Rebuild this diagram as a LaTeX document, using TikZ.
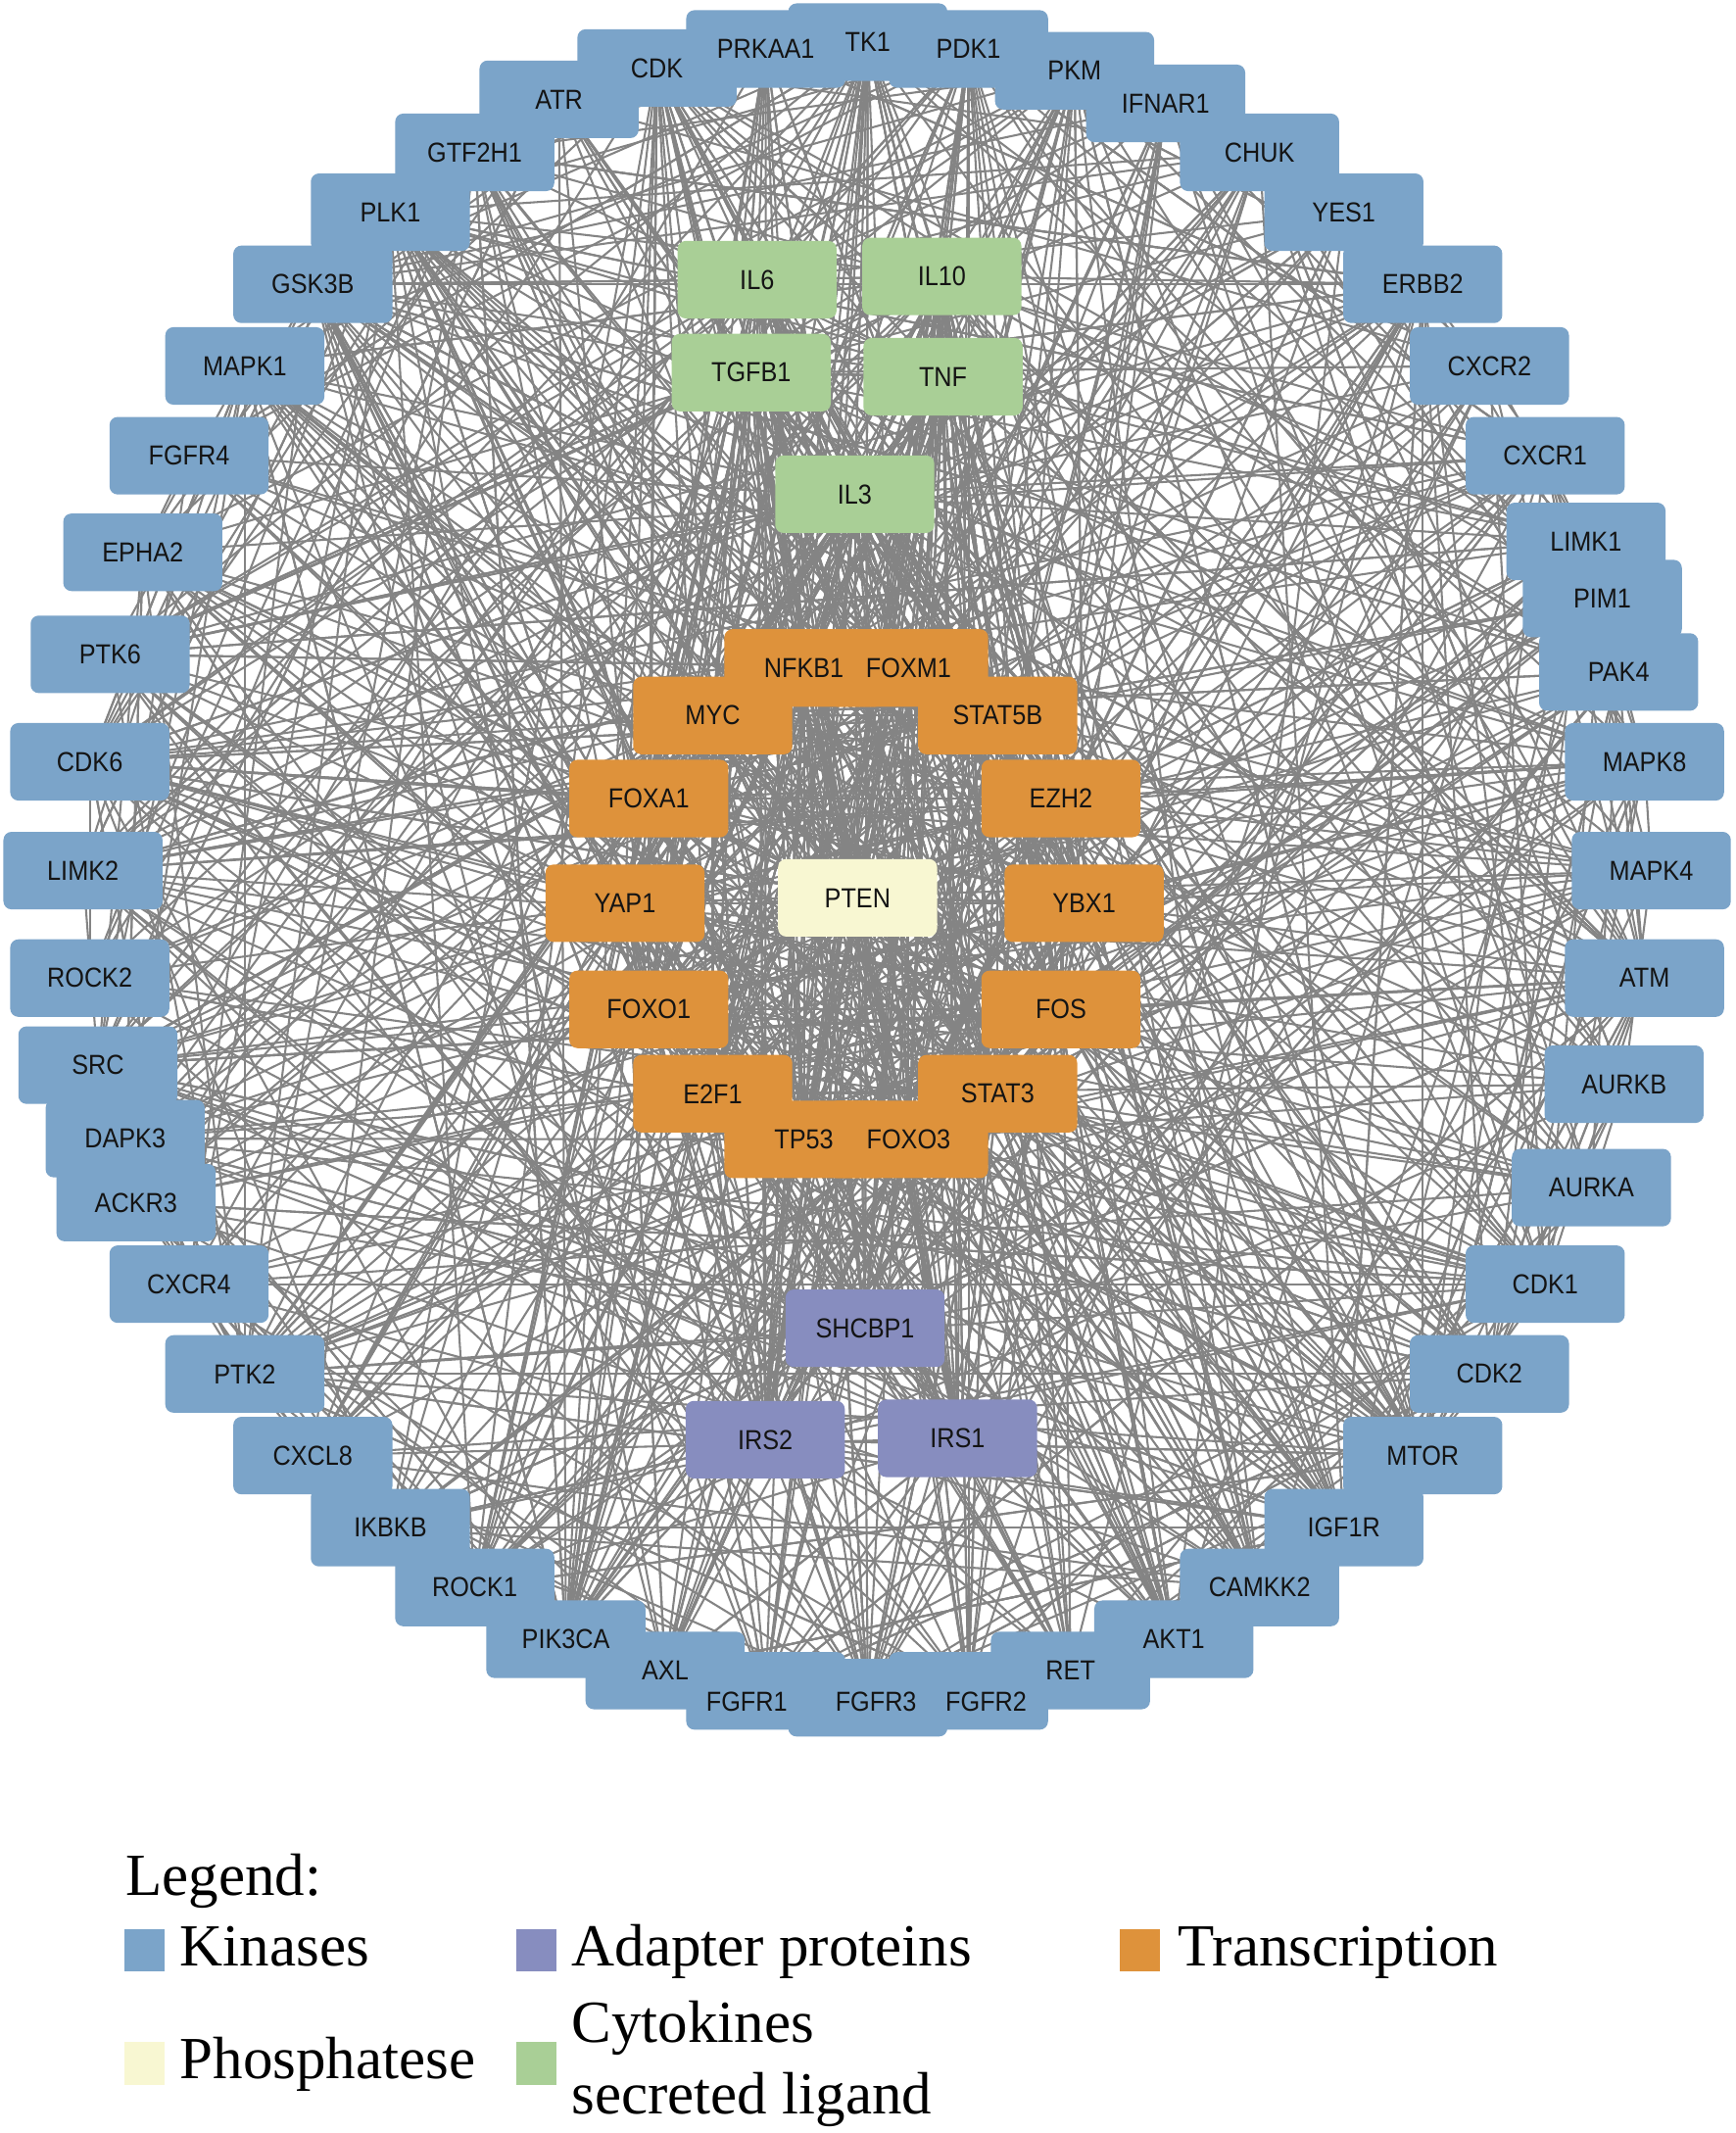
\documentclass[tikz,border=0pt]{standalone}
\usepackage{fontspec}
\setmainfont{Liberation Serif}
\newfontfamily\nodefont[FakeStretch=0.9]{Liberation Sans}
\definecolor{kin}{HTML}{7BA4C9}
\definecolor{tra}{HTML}{DE923B}
\definecolor{cyt}{HTML}{A9CF96}
\definecolor{ada}{HTML}{878DBF}
\definecolor{pho}{HTML}{F8F7D2}
\definecolor{edgec}{HTML}{848484}
\definecolor{txtc}{HTML}{141414}
\pgfdeclarelayer{bg}
\pgfdeclarelayer{boxes}
\pgfsetlayers{bg,boxes,main}
\begin{document}
\begin{tikzpicture}[x=0.02cm,y=-0.02cm,
  box/.style={rectangle,rounded corners=0.12cm,minimum width=2.34cm,minimum height=1.14cm,inner sep=0pt,draw=none},
  lbl/.style={font=\nodefont\fontsize{11.5}{13}\selectfont,text=txtc,inner sep=0pt},
  edge/.style={draw=edgec,line width=0.85pt},
  leg/.style={font=\fontsize{25}{30}\selectfont,text=black,anchor=base west,inner sep=0pt},
  sq/.style={draw=none,inner sep=0pt,minimum width=0.59cm,minimum height=0.62cm,anchor=north west}]
\useasboundingbox (0,0) rectangle (1276,1568);
\begin{pgfonlayer}{bg}
\fill[white] (0,0) rectangle (1276,1568);
\end{pgfonlayer}
% kinases (outer ring)
\foreach \i/\x/\y/\t in {1/638/31/TK1, 2/712/36/PDK1, 3/790/52/PKM, 4/857/76/IFNAR1, 5/926/112/CHUK,
  6/988/156/YES1, 7/1046/209/ERBB2, 8/1095/269/CXCR2, 9/1136/335/CXCR1, 10/1166/398/LIMK1,
  11/1178/440/PIM1, 12/1190/494/PAK4, 13/1209/560/MAPK8, 14/1214/640/MAPK4, 15/1209/719/ATM,
  16/1194/797/AURKB, 17/1170/873/AURKA, 18/1136/944/CDK1, 19/1095/1010/CDK2, 20/1046/1070/MTOR,
  21/988/1123/IGF1R, 22/926/1167/CAMKK2, 23/863/1205/AKT1, 24/787/1228/RET,
  28/489/1228/AXL, 29/416/1205/PIK3CA, 30/349/1167/ROCK1,
  31/287/1123/IKBKB, 32/230/1070/CXCL8, 33/180/1010/PTK2, 34/139/944/CXCR4, 35/100/884/ACKR3,
  36/92/837/DAPK3, 37/72/783/SRC, 38/66/719/ROCK2, 39/61/640/LIMK2, 40/66/560/CDK6,
  41/81/481/PTK6, 42/105/406/EPHA2, 43/139/335/FGFR4, 44/180/269/MAPK1, 45/230/209/GSK3B,
  46/287/156/PLK1, 47/349/112/GTF2H1, 48/411/73/ATR, 49/483/50/CDK, 50/563/36/PRKAA1} {
  \begin{pgfonlayer}{boxes}\node[box,fill=kin] (n\i) at (\x,\y) {};\end{pgfonlayer}
  \node[lbl] at (n\i) {\t};
}
% bottom kinases with off-centre labels
\foreach \i/\x/\y/\lx/\t in {25/712/1243/725/FGFR2, 26/638/1248/644/FGFR3, 27/563/1243/549/FGFR1} {
  \begin{pgfonlayer}{boxes}\node[box,fill=kin] (n\i) at (\x,\y) {};\end{pgfonlayer}
  \node[lbl] at (\lx,1251) {\t};
}
% cytokines
\foreach \i/\x/\y/\t in {51/556.6/205.6/IL6, 52/692.4/203.2/IL10, 53/552.3/273.9/TGFB1, 54/693.3/276.9/TNF, 55/628.4/363.3/IL3} {
  \begin{pgfonlayer}{boxes}\node[box,fill=cyt] (n\i) at (\x,\y) {};\end{pgfonlayer}
  \node[lbl] at (n\i) {\t};
}
% transcription
\foreach \i/\x/\y/\t in {56/591/491/NFKB1, 57/668/491/FOXM1, 58/524/526/MYC, 59/733.5/526/STAT5B,
  60/477/587/FOXA1, 61/780/587/EZH2, 62/459.5/664/YAP1, 63/797/664/YBX1, 64/477/742/FOXO1,
  65/780/742/FOS, 66/524/804/E2F1, 67/733.5/804/STAT3, 68/591/837.6/TP53, 69/668/837.6/FOXO3} {
  \begin{pgfonlayer}{boxes}\node[box,fill=tra] (n\i) at (\x,\y) {};\end{pgfonlayer}
  \node[lbl] at (n\i) {\t};
}
% phosphatase
\begin{pgfonlayer}{boxes}\node[box,fill=pho] (n70) at (630.5,660) {};\end{pgfonlayer}
\node[lbl] at (n70) {PTEN};
% adapters
\foreach \i/\x/\y/\t in {71/636/976.4/SHCBP1, 72/562.6/1058.3/IRS2, 73/704/1057.3/IRS1} {
  \begin{pgfonlayer}{boxes}\node[box,fill=ada] (n\i) at (\x,\y) {};\end{pgfonlayer}
  \node[lbl] at (n\i) {\t};
}
% interactions
\pgfmathsetseed{2024}
\begin{pgfonlayer}{bg}
\foreach \i in {51,...,73} {
  \foreach \k in {1,...,27} {
    \pgfmathrandominteger{\j}{1}{73}
    \draw[edge] (n\i.center) -- (n\j.center);
  }
}
\foreach \i in {51,...,70} {
  \foreach \k in {1,...,16} {
    \pgfmathrandominteger{\j}{51}{73}
    \draw[edge] (n\i.center) -- (n\j.center);
  }
}
\foreach \i in {1,2,3,7,13,15,16,18,19,20,21,22,23,29,37,44,45,46,49,26,40,33} {
  \foreach \k in {1,...,15} {
    \pgfmathrandominteger{\j}{1}{73}
    \draw[edge] (n\i.center) -- (n\j.center);
  }
}
\foreach \k in {1,...,230} {
  \pgfmathrandominteger{\a}{1}{50}
  \pgfmathrandominteger{\b}{1}{50}
  \draw[edge] (n\a.center) -- (n\b.center);
}
\end{pgfonlayer}
% legend
\node[leg] (lgt) at (92,1393) {Legend:};
\node[sq,fill=kin] (sk) at (91,1418) {};
\node[leg] (tk) at (132,1445) {Kinases};
\node[sq,fill=ada] (sa) at (379,1418) {};
\node[leg] (ta) at (420,1445) {Adapter proteins};
\node[sq,fill=tra] (st) at (823,1418) {};
\node[leg] (tt) at (866,1445) {Transcription};
\node[sq,fill=pho] (sp) at (91,1501) {};
\node[leg] (tp) at (132,1528) {Phosphatese};
\node[sq,fill=cyt] (sc) at (379,1501) {};
\node[leg] (tc1) at (420,1501) {Cytokines};
\node[leg] (tc2) at (420,1554) {secreted ligand};
\end{tikzpicture}
\end{document}
